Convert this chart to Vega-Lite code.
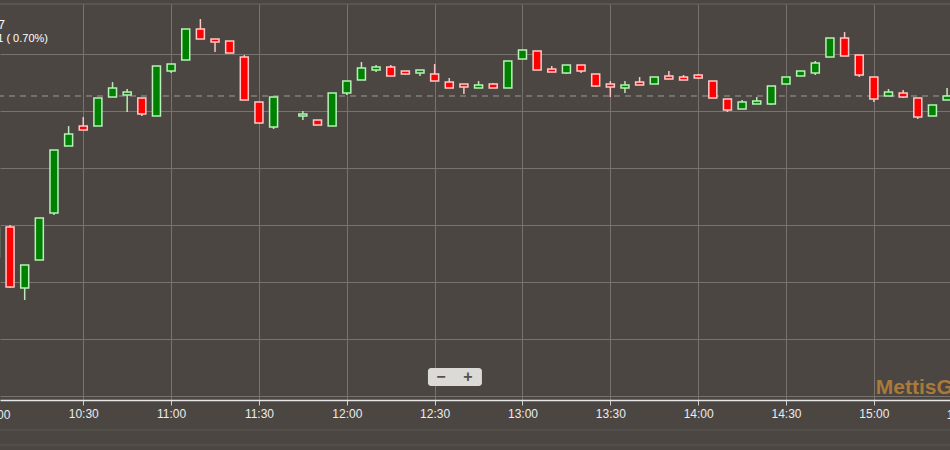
{
  "$schema": "https://vega.github.io/schema/vega-lite/v6.json",
  "width": 950,
  "height": 396,
  "autosize": "none",
  "padding": {"top": 4, "bottom": 50, "left": 0, "right": 0},
  "background": "#4b4642",
  "config": {
    "view": {"stroke": null},
    "font": "Liberation Sans",
    "scale": {"continuousPadding": 0}
  },
  "datasets": {
    "one": [{}],
    "candles": [
      {"t":"2024-01-02T10:00:00","o":40121.9,"h":40147.4,"l":40121.9,"c":40147.4},
      {"t":"2024-01-02T10:05:00","o":40148.2,"h":40150.0,"l":40094.7,"c":40095.6},
      {"t":"2024-01-02T10:10:00","o":40094.7,"h":40114.9,"l":40084.2,"c":40114.9},
      {"t":"2024-01-02T10:15:00","o":40119.3,"h":40156.1,"l":40119.3,"c":40156.1},
      {"t":"2024-01-02T10:20:00","o":40160.5,"h":40215.8,"l":40158.8,"c":40215.8},
      {"t":"2024-01-02T10:25:00","o":40219.3,"h":40236.8,"l":40219.3,"c":40229.8},
      {"t":"2024-01-02T10:30:00","o":40236.8,"h":40244.7,"l":40233.3,"c":40233.3},
      {"t":"2024-01-02T10:35:00","o":40236.8,"h":40261.4,"l":40236.8,"c":40261.4},
      {"t":"2024-01-02T10:40:00","o":40262.3,"h":40275.4,"l":40262.3,"c":40270.2},
      {"t":"2024-01-02T10:45:00","o":40264.0,"h":40269.3,"l":40249.1,"c":40266.7},
      {"t":"2024-01-02T10:50:00","o":40261.4,"h":40261.4,"l":40245.6,"c":40247.4},
      {"t":"2024-01-02T10:55:00","o":40245.6,"h":40289.5,"l":40245.6,"c":40289.5},
      {"t":"2024-01-02T11:00:00","o":40285.1,"h":40291.2,"l":40283.3,"c":40291.2},
      {"t":"2024-01-02T11:05:00","o":40294.7,"h":40321.9,"l":40294.7,"c":40321.9},
      {"t":"2024-01-02T11:10:00","o":40321.9,"h":40330.7,"l":40313.2,"c":40313.2},
      {"t":"2024-01-02T11:15:00","o":40313.2,"h":40313.2,"l":40301.8,"c":40310.5},
      {"t":"2024-01-02T11:20:00","o":40311.4,"h":40311.4,"l":40300.9,"c":40300.9},
      {"t":"2024-01-02T11:25:00","o":40297.4,"h":40299.1,"l":40259.6,"c":40259.6},
      {"t":"2024-01-02T11:30:00","o":40257.9,"h":40257.9,"l":40239.5,"c":40239.5},
      {"t":"2024-01-02T11:35:00","o":40236.0,"h":40262.3,"l":40234.2,"c":40262.3},
      {"t":"2024-01-02T11:45:00","o":40245.6,"h":40250.0,"l":40242.1,"c":40247.4},
      {"t":"2024-01-02T11:50:00","o":40242.1,"h":40242.1,"l":40237.7,"c":40237.7},
      {"t":"2024-01-02T11:55:00","o":40236.8,"h":40265.8,"l":40236.8,"c":40265.8},
      {"t":"2024-01-02T12:00:00","o":40265.8,"h":40276.3,"l":40264.0,"c":40276.3},
      {"t":"2024-01-02T12:05:00","o":40277.2,"h":40293.0,"l":40277.2,"c":40287.7},
      {"t":"2024-01-02T12:10:00","o":40286.0,"h":40290.4,"l":40284.2,"c":40288.6},
      {"t":"2024-01-02T12:15:00","o":40288.6,"h":40290.4,"l":40280.7,"c":40280.7},
      {"t":"2024-01-02T12:20:00","o":40285.1,"h":40285.1,"l":40281.6,"c":40282.5},
      {"t":"2024-01-02T12:25:00","o":40283.3,"h":40286.0,"l":40280.7,"c":40286.0},
      {"t":"2024-01-02T12:30:00","o":40282.5,"h":40291.2,"l":40276.3,"c":40276.3},
      {"t":"2024-01-02T12:35:00","o":40275.4,"h":40279.0,"l":40270.2,"c":40270.2},
      {"t":"2024-01-02T12:40:00","o":40273.7,"h":40273.7,"l":40264.9,"c":40271.1},
      {"t":"2024-01-02T12:45:00","o":40270.2,"h":40276.3,"l":40270.2,"c":40272.8},
      {"t":"2024-01-02T12:50:00","o":40273.7,"h":40274.6,"l":40270.2,"c":40270.2},
      {"t":"2024-01-02T12:55:00","o":40270.2,"h":40293.9,"l":40270.2,"c":40293.9},
      {"t":"2024-01-02T13:00:00","o":40295.6,"h":40303.5,"l":40295.6,"c":40303.5},
      {"t":"2024-01-02T13:05:00","o":40302.6,"h":40302.6,"l":40286.0,"c":40286.0},
      {"t":"2024-01-02T13:10:00","o":40286.8,"h":40289.5,"l":40284.2,"c":40284.2},
      {"t":"2024-01-02T13:15:00","o":40283.3,"h":40290.4,"l":40282.5,"c":40290.4},
      {"t":"2024-01-02T13:20:00","o":40290.4,"h":40290.4,"l":40283.3,"c":40285.1},
      {"t":"2024-01-02T13:25:00","o":40282.5,"h":40282.5,"l":40271.1,"c":40271.9},
      {"t":"2024-01-02T13:30:00","o":40273.7,"h":40276.3,"l":40262.3,"c":40271.1},
      {"t":"2024-01-02T13:35:00","o":40270.2,"h":40276.3,"l":40265.8,"c":40272.8},
      {"t":"2024-01-02T13:40:00","o":40275.4,"h":40279.8,"l":40272.8,"c":40272.8},
      {"t":"2024-01-02T13:45:00","o":40273.7,"h":40279.8,"l":40273.7,"c":40279.8},
      {"t":"2024-01-02T13:50:00","o":40280.7,"h":40285.1,"l":40278.1,"c":40278.1},
      {"t":"2024-01-02T13:55:00","o":40279.8,"h":40281.6,"l":40277.2,"c":40277.2},
      {"t":"2024-01-02T14:00:00","o":40281.6,"h":40282.5,"l":40278.1,"c":40279.0},
      {"t":"2024-01-02T14:05:00","o":40276.3,"h":40276.3,"l":40261.4,"c":40261.4},
      {"t":"2024-01-02T14:10:00","o":40260.5,"h":40260.5,"l":40249.1,"c":40250.9},
      {"t":"2024-01-02T14:15:00","o":40251.8,"h":40259.6,"l":40251.8,"c":40257.9},
      {"t":"2024-01-02T14:20:00","o":40256.1,"h":40262.3,"l":40256.1,"c":40258.8},
      {"t":"2024-01-02T14:25:00","o":40256.1,"h":40271.9,"l":40255.3,"c":40271.9},
      {"t":"2024-01-02T14:30:00","o":40273.7,"h":40279.8,"l":40273.7,"c":40279.8},
      {"t":"2024-01-02T14:35:00","o":40280.7,"h":40285.1,"l":40280.7,"c":40285.1},
      {"t":"2024-01-02T14:40:00","o":40283.3,"h":40293.9,"l":40281.6,"c":40292.1},
      {"t":"2024-01-02T14:45:00","o":40297.4,"h":40314.0,"l":40297.4,"c":40314.0},
      {"t":"2024-01-02T14:50:00","o":40314.0,"h":40319.3,"l":40298.2,"c":40298.2},
      {"t":"2024-01-02T14:55:00","o":40299.1,"h":40299.1,"l":40279.8,"c":40281.6},
      {"t":"2024-01-02T15:00:00","o":40279.8,"h":40279.8,"l":40257.9,"c":40260.5},
      {"t":"2024-01-02T15:05:00","o":40263.2,"h":40269.3,"l":40263.2,"c":40266.7},
      {"t":"2024-01-02T15:10:00","o":40265.8,"h":40268.4,"l":40261.4,"c":40262.3},
      {"t":"2024-01-02T15:15:00","o":40261.4,"h":40261.4,"l":40243.0,"c":40244.7},
      {"t":"2024-01-02T15:20:00","o":40245.6,"h":40255.3,"l":40245.6,"c":40255.3},
      {"t":"2024-01-02T15:25:00","o":40259.6,"h":40270.2,"l":40259.6,"c":40263.2}
    ]
  },
  "data": {"name": "candles"},
  "encoding": {
    "x": {
      "field": "t",
      "type": "temporal",
      "scale": {
        "domain": [
          {"year": 2024, "month": 1, "date": 2, "hours": 10, "minutes": 1, "seconds": 34},
          {"year": 2024, "month": 1, "date": 2, "hours": 15, "minutes": 26, "seconds": 0}
        ],
        "padding": 0,
        "nice": false
      },
      "axis": {
        "title": null,
        "format": "%H:%M",
        "values": [
          {"year": 2024, "month": 1, "date": 2, "hours": 10, "minutes": 30},
          {"year": 2024, "month": 1, "date": 2, "hours": 11, "minutes": 0},
          {"year": 2024, "month": 1, "date": 2, "hours": 11, "minutes": 30},
          {"year": 2024, "month": 1, "date": 2, "hours": 12, "minutes": 0},
          {"year": 2024, "month": 1, "date": 2, "hours": 12, "minutes": 30},
          {"year": 2024, "month": 1, "date": 2, "hours": 13, "minutes": 0},
          {"year": 2024, "month": 1, "date": 2, "hours": 13, "minutes": 30},
          {"year": 2024, "month": 1, "date": 2, "hours": 14, "minutes": 0},
          {"year": 2024, "month": 1, "date": 2, "hours": 14, "minutes": 30},
          {"year": 2024, "month": 1, "date": 2, "hours": 15, "minutes": 0}
        ],
        "grid": true,
        "gridColor": "#78736e",
        "gridWidth": 1,
        "domainColor": "#e6e6e6",
        "domainWidth": 1.5,
        "tickColor": "#d0d0d0",
        "tickSize": 5,
        "labelColor": "#ececec",
        "labelFontSize": 12,
        "labelFont": "Liberation Sans",
        "labelPadding": 3,
        "labelFlush": false,
        "labelOverlap": false
      }
    }
  },
  "layer": [
    {
      "data": {"name": "one"},
      "mark": {"type": "rule", "color": "#6a6560", "strokeWidth": 1},
      "encoding": {
        "x": null,
        "y": {
          "datum": 40343.9,
          "type": "quantitative",
          "scale": {"domain": [39996.5, 40343.9], "nice": false, "zero": false, "padding": 0},
          "axis": {
            "title": null,
            "labels": false,
            "ticks": false,
            "domain": false,
            "grid": true,
            "gridColor": "#78736e",
            "gridWidth": 1,
            "values": [40000, 40050, 40100, 40150, 40200, 40250, 40300]
          }
        }
      }
    },
    {
      "data": {"name": "one"},
      "mark": {"type": "rule", "color": "#5d5853", "strokeWidth": 1, "clip": false},
      "encoding": {"x": null, "y": {"datum": 39970.2, "type": "quantitative"}}
    },
    {
      "data": {"name": "one"},
      "mark": {"type": "rule", "color": "#5d5853", "strokeWidth": 1, "clip": false},
      "encoding": {"x": null, "y": {"datum": 39957.0, "type": "quantitative"}}
    },
    {
      "data": {"name": "one"},
      "mark": {"type": "rule", "color": "#a09b96", "strokeWidth": 1, "strokeDash": [6, 5]},
      "encoding": {"x": null, "y": {"datum": 40263.2, "type": "quantitative"}}
    },
    {
      "mark": {"type": "rule", "strokeWidth": 1.5, "clip": true},
      "encoding": {
        "y": {"field": "l", "type": "quantitative"},
        "y2": {"field": "h"},
        "color": {
          "condition": {"test": "datum.c >= datum.o", "value": "#b5ecb5"},
          "value": "#ffc4c4"
        }
      }
    },
    {
      "mark": {"type": "bar", "width": 8, "strokeWidth": 1.5, "clip": true},
      "encoding": {
        "y": {"field": "o", "type": "quantitative"},
        "y2": {"field": "c"},
        "fill": {
          "condition": {"test": "datum.c >= datum.o", "value": "#008000"},
          "value": "#ff0000"
        },
        "stroke": {
          "condition": {"test": "datum.c >= datum.o", "value": "#b8f0b8"},
          "value": "#ffc8c8"
        }
      }
    },
    {
      "transform": [{"filter": "datum.o == 40121.9"}],
      "mark": {"type": "text", "align": "center", "baseline": "middle", "color": "#ececec", "fontSize": 12, "font": "Liberation Sans", "clip": false},
      "encoding": {
        "x": {"datum": {"year": 2024, "month": 1, "date": 2, "hours": 10, "minutes": 0}, "type": "temporal"},
        "y": {"datum": 39983.3, "type": "quantitative"},
        "text": {"value": "10:00"}
      }
    },
    {
      "transform": [{"filter": "datum.o == 40121.9"}],
      "mark": {"type": "text", "align": "center", "baseline": "middle", "color": "#ececec", "fontSize": 12, "font": "Liberation Sans", "clip": false},
      "encoding": {
        "x": {"datum": {"year": 2024, "month": 1, "date": 2, "hours": 15, "minutes": 30}, "type": "temporal"},
        "y": {"datum": 39983.3, "type": "quantitative"},
        "text": {"value": "15:30"}
      }
    },
    {
      "transform": [{"filter": "datum.o == 40121.9"}],
      "mark": {"type": "text", "align": "right", "baseline": "middle", "color": "#ffffff", "fontSize": 12, "font": "Liberation Sans"},
      "encoding": {
        "x": {"datum": {"year": 2024, "month": 1, "date": 2, "hours": 10, "minutes": 3, "seconds": 16}, "type": "temporal"},
        "y": {"datum": 40325.4, "type": "quantitative"},
        "text": {"value": "7"}
      }
    },
    {
      "transform": [{"filter": "datum.o == 40121.9"}],
      "mark": {"type": "text", "align": "right", "baseline": "middle", "color": "#ffffff", "fontSize": 11, "font": "Liberation Sans"},
      "encoding": {
        "x": {"datum": {"year": 2024, "month": 1, "date": 2, "hours": 10, "minutes": 17, "seconds": 57}, "type": "temporal"},
        "y": {"datum": 40313.2, "type": "quantitative"},
        "text": {"value": "1 ( 0.70%)"}
      }
    },
    {
      "transform": [{"filter": "datum.o == 40121.9"}],
      "mark": {"type": "rect", "color": "#dcdad7", "cornerRadius": 3},
      "encoding": {
        "x": {"datum": {"year": 2024, "month": 1, "date": 2, "hours": 12, "minutes": 27, "seconds": 43}, "type": "temporal"},
        "x2": {"datum": {"year": 2024, "month": 1, "date": 2, "hours": 12, "minutes": 46, "seconds": 9}},
        "y": {"datum": 40024.6, "type": "quantitative"},
        "y2": {"datum": 40008.8}
      }
    },
    {
      "transform": [{"filter": "datum.o == 40121.9"}],
      "mark": {"type": "text", "align": "center", "baseline": "middle", "color": "#555250", "fontSize": 16, "fontWeight": "bold", "font": "Liberation Sans"},
      "encoding": {
        "x": {"datum": {"year": 2024, "month": 1, "date": 2, "hours": 12, "minutes": 32, "seconds": 9}, "type": "temporal"},
        "y": {"datum": 40016.7, "type": "quantitative"},
        "text": {"value": "−"}
      }
    },
    {
      "transform": [{"filter": "datum.o == 40121.9"}],
      "mark": {"type": "text", "align": "center", "baseline": "middle", "color": "#555250", "fontSize": 16, "fontWeight": "bold", "font": "Liberation Sans"},
      "encoding": {
        "x": {"datum": {"year": 2024, "month": 1, "date": 2, "hours": 12, "minutes": 41, "seconds": 23}, "type": "temporal"},
        "y": {"datum": 40016.7, "type": "quantitative"},
        "text": {"value": "+"}
      }
    },
    {
      "transform": [{"filter": "datum.o == 40121.9"}],
      "mark": {"type": "text", "align": "left", "baseline": "middle", "color": "#b07d3a", "opacity": 0.95, "fontSize": 21, "fontWeight": "bold", "font": "Liberation Sans"},
      "encoding": {
        "x": {"datum": {"year": 2024, "month": 1, "date": 2, "hours": 15, "minutes": 0, "seconds": 40}, "type": "temporal"},
        "y": {"datum": 40007.0, "type": "quantitative"},
        "text": {"value": "MettisGlobal"}
      }
    }
  ]
}
